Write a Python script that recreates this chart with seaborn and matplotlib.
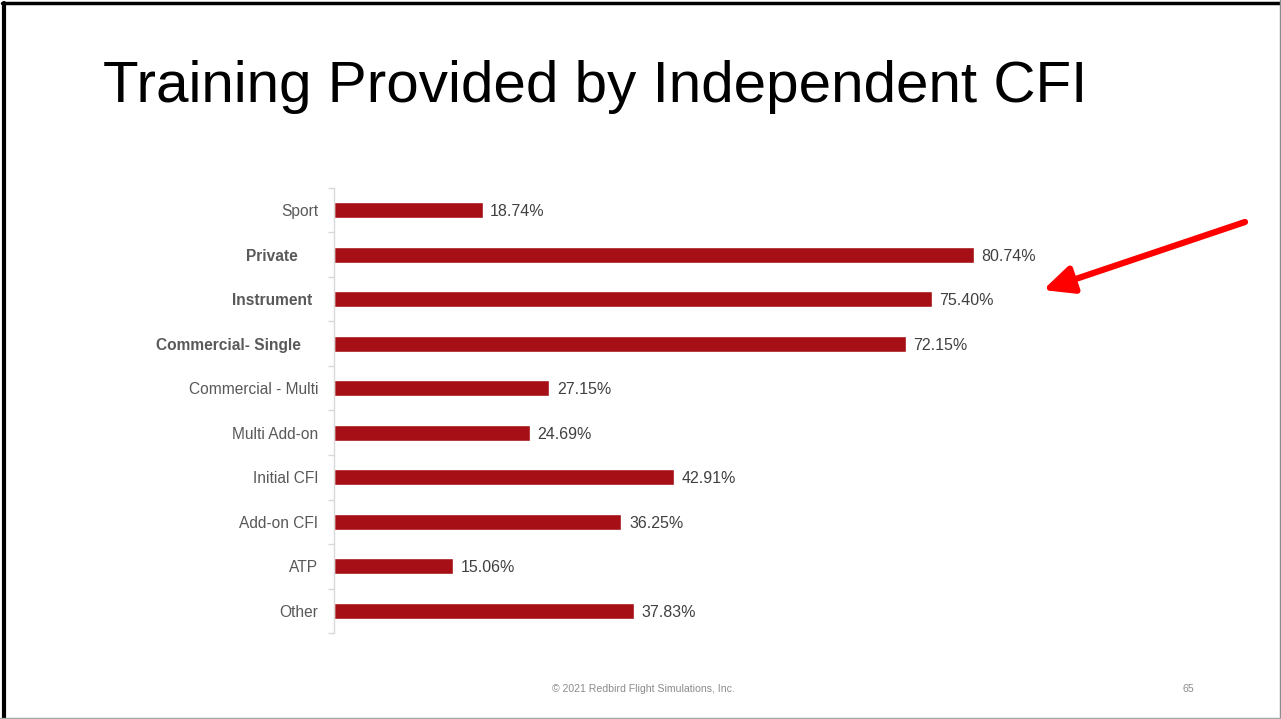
import matplotlib
matplotlib.use("Agg")
import matplotlib.pyplot as plt
import matplotlib.transforms as mtransforms
from matplotlib.lines import Line2D
import seaborn as sns
import pandas as pd

categories = ["Sport", "Private", "Instrument", "Commercial- Single", "Commercial - Multi",
              "Multi Add-on", "Initial CFI", "Add-on CFI", "ATP", "Other"]
values = [18.74, 80.74, 75.40, 72.15, 27.15, 24.69, 42.91, 36.25, 15.06, 37.83]
bold_labels = ["Private", "Instrument", "Commercial- Single"]
value_labels = ["18.74%", "80.74%", "75.40%", "72.15%", "27.15%", "24.69%",
                "42.91%", "36.25%", "15.06%", "37.83%"]
title = "Training Provided by Independent CFI"
footer = "\u00a9 2021 Redbird Flight Simulations, Inc."
page = "65"

sns.set_theme(style="white")
plt.rcParams["font.family"] = ["Liberation Sans", "DejaVu Sans"]

W, H = 1281, 719
fig = plt.figure(figsize=(W / 100, H / 100), dpi=100)
fig.patch.set_facecolor("white")

ax = fig.add_axes([334 / W, 85.7 / H, 792.7 / W, 445.6 / H])
df = pd.DataFrame({"cat": categories, "val": values})
sns.barplot(data=df, y="cat", x="val", orient="h", color="#A50F15", saturation=1,
            width=0.36, ax=ax)
ax.set_xlim(0, 100)
ax.set_ylim(len(categories) - 0.5, -0.5)
ax.set_xlabel("")
ax.set_ylabel("")
ax.set_xticks([])
for s in ["top", "right", "bottom"]:
    ax.spines[s].set_visible(False)
ax.spines["left"].set_color("#D9D9D9")
ax.spines["left"].set_linewidth(1.0)

# tick marks at category boundaries
ax.set_yticks([i + 0.5 for i in range(-1, len(categories))], minor=True)
ax.tick_params(axis="y", which="minor", left=True, length=4, color="#D9D9D9", width=1)
ax.tick_params(axis="y", which="major", left=False, length=0, pad=11.5)
ax.set_yticks(range(len(categories)))
ax.set_yticklabels(categories)

offsets = {"Private": 20, "Instrument": 6, "Commercial- Single": 17}
for lab in ax.get_yticklabels():
    t = lab.get_text()
    lab.set_fontsize(11.2)
    lab.set_color("#595959")
    if t in bold_labels:
        lab.set_fontweight("bold")
        dx = offsets[t]
        lab.set_transform(lab.get_transform() +
                          mtransforms.ScaledTranslation(-dx / 100, 0, fig.dpi_scale_trans))

for i, (v, s) in enumerate(zip(values, value_labels)):
    ax.annotate(s, xy=(v, i), xytext=(5.5, 0), textcoords="offset points",
                va="center_baseline", ha="left", fontsize=11.5, color="#404040")

fig.text(103 / W, 1 - 102 / H, title, fontsize=42, color="black", ha="left", va="baseline")
fig.text(643 / W, 1 - 689 / H, footer, fontsize=7.6, color="#8C8C8C", ha="center", va="center")
fig.text(1188 / W, 1 - 689 / H, page, fontsize=7.6, color="#8C8C8C", ha="center", va="center")

ax.annotate("", xy=(1043, H - 290), xycoords="figure pixels",
            xytext=(1245, H - 222), textcoords="figure pixels",
            arrowprops=dict(arrowstyle="-|>,head_length=1.5,head_width=0.7", color="#FF0000",
                            lw=4.5, shrinkA=0, shrinkB=0))

# slide border
fig.add_artist(Line2D([3.5 / W, 3.5 / W], [0, 1 - 2.5 / H], transform=fig.transFigure, color="black", lw=3))
fig.add_artist(Line2D([2 / W, 1], [1 - 2.5 / H, 1 - 2.5 / H], transform=fig.transFigure, color="black", lw=2.5))
fig.add_artist(Line2D([1279.5 / W, 1279.5 / W], [0, 1], transform=fig.transFigure, color="#8C8C8C", lw=1))
fig.add_artist(Line2D([0, 1], [1.5 / H, 1.5 / H], transform=fig.transFigure, color="#A6A6A6", lw=1))

fig.savefig("out.png", dpi=100, facecolor="white")
